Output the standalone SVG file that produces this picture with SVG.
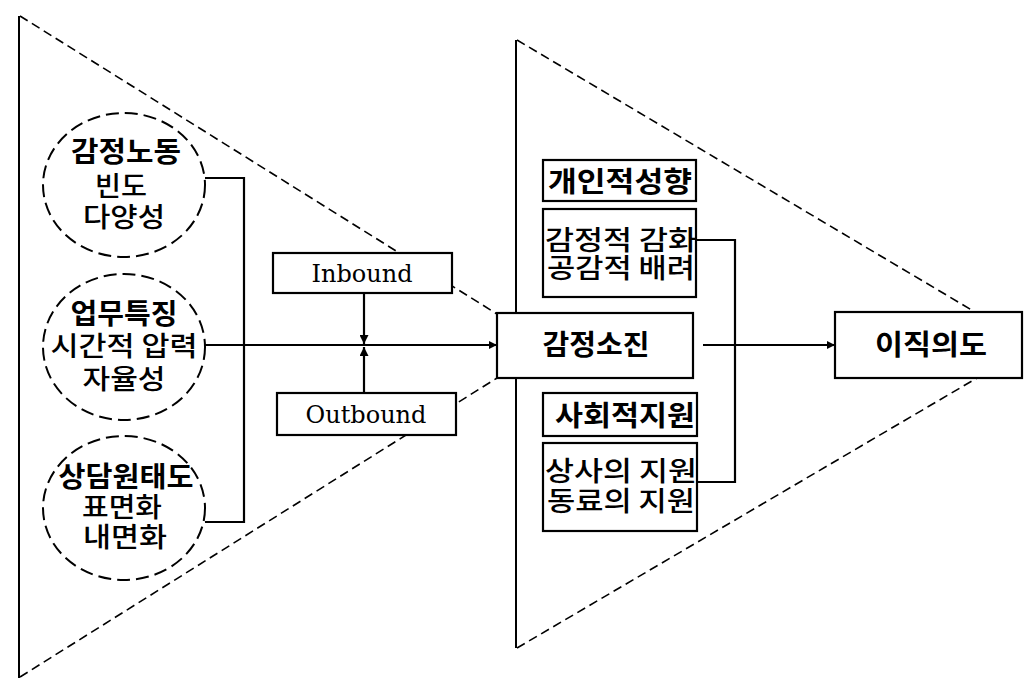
<svg xmlns="http://www.w3.org/2000/svg" width="1032" height="678" viewBox="0 0 1032 678">
  <style>
    .bg { fill: #ffffff; }
    .frame { fill: none; stroke: #000; stroke-width: 2; }
    .dash { fill: none; stroke: #000; stroke-width: 1.6; stroke-dasharray: 9 5; }
    .oval { fill: none; stroke: #000; stroke-width: 2; stroke-dasharray: 13 6; }
    .box { fill: #fff; stroke: #000; stroke-width: 2.2; }
    .line { fill: none; stroke: #000; stroke-width: 2.2; }
    .ko { font-family: "Noto Sans CJK KR", "Noto Sans", sans-serif; font-size: 27px; font-weight: 500; fill: #000; text-anchor: middle; }
    .b { font-weight: bold; font-size: 28px; }
    .en { font-family: "DejaVu Serif", "Liberation Serif", serif; font-size: 24px; fill: #000; text-anchor: middle; }
  </style>
  <defs>
    <marker id="arr" viewBox="0 0 10 10" refX="10" refY="5" markerWidth="10" markerHeight="8" markerUnits="userSpaceOnUse" orient="auto">
      <path d="M0,0 L10,5 L0,10 Z" fill="#000"/>
    </marker>
    <marker id="arrS" viewBox="0 0 10 10" refX="10" refY="5" markerWidth="9" markerHeight="9" markerUnits="userSpaceOnUse" orient="auto">
      <path d="M0,0 L10,5 L0,10 Z" fill="#000"/>
    </marker>
  </defs>
  <rect class="bg" x="0" y="0" width="1032" height="678"/>

  <!-- left funnel -->
  <g id="funnel-left">
    <line class="frame" x1="19" y1="16" x2="19" y2="678"/>
    <line class="dash" x1="20" y1="16" x2="497" y2="314"/>
    <line class="dash" x1="20" y1="677" x2="497" y2="378"/>
  </g>

  <!-- right funnel -->
  <g id="funnel-right">
    <line class="frame" x1="516" y1="40" x2="516" y2="648"/>
    <line class="dash" x1="517" y1="40" x2="975" y2="312"/>
    <line class="dash" x1="517" y1="648" x2="977" y2="378"/>
  </g>

  <!-- connectors -->
  <g id="connectors">
    <polyline class="line" points="205,178 244,178 244,522 205,522"/>
    <line class="line" x1="205" y1="345" x2="497" y2="345" marker-end="url(#arr)"/>
    <line class="line" x1="364" y1="293" x2="364" y2="344" marker-end="url(#arrS)"/>
    <line class="line" x1="364" y1="393" x2="364" y2="347" marker-end="url(#arrS)"/>
    <line class="line" x1="703" y1="345" x2="835" y2="345" marker-end="url(#arr)"/>
    <polyline class="line" points="696,240 735,240 735,482 697,482"/>
  </g>

  <g id="node-labor">
    <ellipse class="oval" cx="124" cy="185" rx="81" ry="72"/>
    <text class="ko b" x="126" y="162" textLength="110" lengthAdjust="spacingAndGlyphs">감정노동</text>
    <text class="ko" x="121" y="196" textLength="52" lengthAdjust="spacingAndGlyphs">빈도</text>
    <text class="ko" x="124" y="227" textLength="82" lengthAdjust="spacingAndGlyphs">다양성</text>
  </g>

  <g id="node-task">
    <ellipse class="oval" cx="124" cy="347" rx="81" ry="73"/>
    <text class="ko b" x="124" y="324" textLength="107" lengthAdjust="spacingAndGlyphs">업무특징</text>
    <text class="ko" x="124" y="356" textLength="147" lengthAdjust="spacingAndGlyphs">시간적 압력</text>
    <text class="ko" x="124" y="389" textLength="83" lengthAdjust="spacingAndGlyphs">자율성</text>
  </g>

  <g id="node-attitude">
    <ellipse class="oval" cx="124" cy="508" rx="81" ry="72"/>
    <text class="ko b" x="126" y="487" textLength="135" lengthAdjust="spacingAndGlyphs">상담원태도</text>
    <text class="ko" x="122" y="517" textLength="80" lengthAdjust="spacingAndGlyphs">표면화</text>
    <text class="ko" x="125" y="547" textLength="84" lengthAdjust="spacingAndGlyphs">내면화</text>
  </g>

  <g id="node-inbound">
    <rect class="box" x="273" y="253" width="179" height="40"/>
    <text class="en" x="362" y="282">Inbound</text>
  </g>

  <g id="node-outbound">
    <rect class="box" x="277" y="393" width="179" height="42"/>
    <text class="en" x="366" y="423">Outbound</text>
  </g>

  <g id="node-exhaustion">
    <rect class="box" x="497" y="313" width="196" height="65"/>
    <text class="ko b" x="596" y="355" textLength="107" lengthAdjust="spacingAndGlyphs">감정소진</text>
  </g>

  <g id="node-turnover">
    <rect class="box" x="835" y="312" width="187" height="66"/>
    <text class="ko b" x="931" y="355" textLength="112" lengthAdjust="spacingAndGlyphs">이직의도</text>
  </g>

  <g id="node-personal">
    <rect class="box" x="543" y="160" width="153" height="41"/>
    <text class="ko b" x="620" y="192" textLength="144" lengthAdjust="spacingAndGlyphs">개인적성향</text>
  </g>

  <g id="node-personal-items">
    <rect class="box" x="543" y="209" width="153" height="88"/>
    <text class="ko" x="621" y="250" textLength="152" lengthAdjust="spacingAndGlyphs">감정적 감화</text>
    <text class="ko" x="621" y="278" textLength="148" lengthAdjust="spacingAndGlyphs">공감적 배려</text>
  </g>

  <g id="node-social">
    <rect class="box" x="543" y="393" width="154" height="43"/>
    <text class="ko b" x="625" y="426" textLength="140" lengthAdjust="spacingAndGlyphs">사회적지원</text>
  </g>

  <g id="node-social-items">
    <rect class="box" x="543" y="443" width="154" height="88"/>
    <text class="ko" x="621" y="481" textLength="152" lengthAdjust="spacingAndGlyphs">상사의 지원</text>
    <text class="ko" x="621" y="511" textLength="148" lengthAdjust="spacingAndGlyphs">동료의 지원</text>
  </g>
</svg>
